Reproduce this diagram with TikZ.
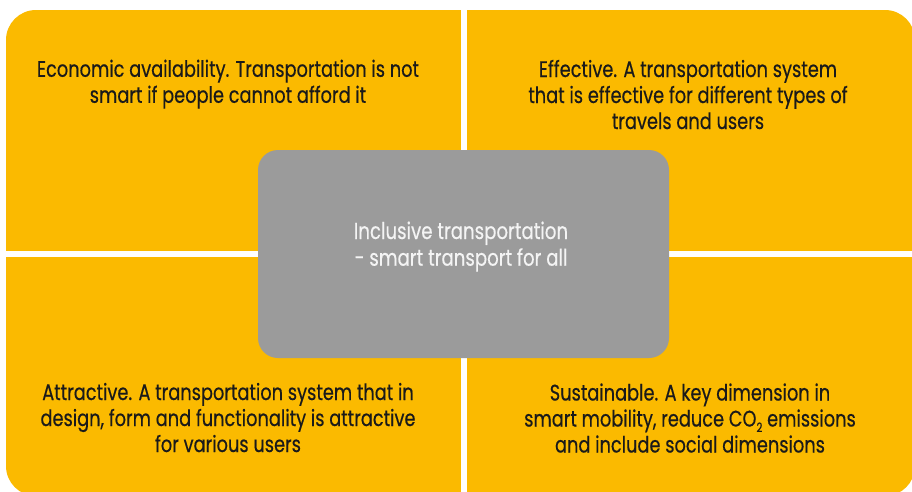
\documentclass[tikz,border=0pt]{standalone}
\usepackage{fontspec}
\setmainfont{Poppins}[FakeStretch=0.79,FakeBold=0.4]
\definecolor{quadyellow}{HTML}{FBBA00}
\definecolor{hubgray}{HTML}{9B9B9B}
\definecolor{inktext}{HTML}{1A1A1A}
\definecolor{hubtext}{HTML}{F4F4F4}
\begin{document}
\begin{tikzpicture}[x=1pt,y=-1pt,
  qtext/.style={anchor=base,align=center,inner sep=0pt,text=inktext,
    font=\fontsize{22.5}{26.0}\selectfont},
  hubbox/.style={fill=hubgray,rounded corners=20pt},
  hubtxt/.style={anchor=base,align=center,inner sep=0pt,text=hubtext,
    font=\fontsize{23}{26.7}\selectfont}]
\useasboundingbox (0,0) rectangle (912,491);
\clip (0,0) rectangle (912,491);
\fill[white] (0,0) rectangle (912,491);
% four quadrants
\fill[quadyellow,rounded corners=30pt] (6,10) rectangle (915,496);
\fill[white] (461,0) rectangle (467,496);
\fill[white] (0,251) rectangle (915,257);
% centre
\fill[hubbox] (258,150) rectangle (669,358);
\node[hubtxt] (hub) at (461,265.7) {Inclusive transportation\\- smart transport for all};
% quadrant texts
\node[qtext] (econ) at (228,102.8) {Economic availability. Transportation is not\\smart if people cannot afford it};
\node[qtext] (eff) at (688,129) {Effective. A transportation system\\that is effective for different types of\\travels and users};
\node[qtext] (attr) at (228,452) {Attractive. A transportation system that in\\design, form and functionality is attractive\\for various users};
\node[qtext] (sust) at (690,452.5) {Sustainable. A key dimension in\\smart mobility, reduce CO\raisebox{-0.45ex}{\fontsize{13}{13}\selectfont 2} emissions\\and include social dimensions};
\end{tikzpicture}
\end{document}
